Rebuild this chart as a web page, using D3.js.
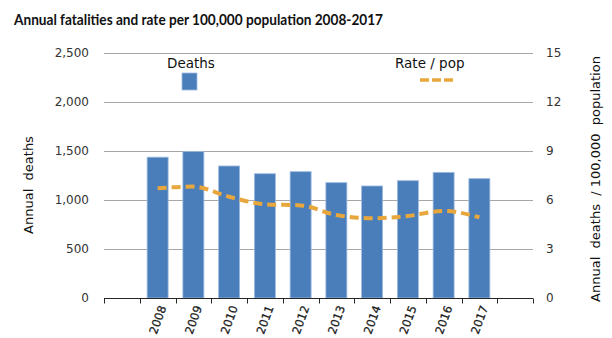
<!DOCTYPE html>
<html>
<head>
<meta charset="utf-8">
<script src="https://cdn.jsdelivr.net/npm/d3@7"></script>
<style>
  body { margin: 0; background: #fff; }
  text { font-family: "DejaVu Sans", Verdana, sans-serif; fill: #333; }
</style>
</head>
<body>
<div id="chart"></div>
<script>
// data
const years = ["2008", "2009", "2010", "2011", "2012", "2013", "2014", "2015", "2016", "2017"];
const deaths = [1437, 1494, 1347, 1268, 1289, 1177, 1143, 1197, 1282, 1218];
const ratePerPop = [6.72, 6.82, 6.2, 5.74, 5.67, 5.08, 4.88, 5.02, 5.33, 4.94];
const leftTicks = [0, 500, 1000, 1500, 2000, 2500];
const rightTicks = [0, 3, 6, 9, 12, 15];

const W = 612, H = 338;
const plot = { left: 104, right: 533, top: 53, bottom: 298 };

const svg = d3.select("#chart").append("svg")
  .attr("width", W)
  .attr("height", H);

// one empty slot either side of the years, like the source
const slots = ["_a", ...years, "_b"];
const x = d3.scaleBand()
  .domain(slots)
  .range([plot.left, plot.right])
  .paddingInner(0)
  .paddingOuter(0);
const barW = 21;

const yL = d3.scaleLinear().domain([0, 2500]).range([plot.bottom, plot.top]);
const yR = d3.scaleLinear().domain([0, 15]).range([plot.bottom, plot.top]);

// title
svg.append("text")
  .attr("x", 14)
  .attr("y", 25)
  .attr("textLength", 369)
  .attr("lengthAdjust", "spacingAndGlyphs")
  .style("font-family", "Lato, sans-serif")
  .style("font-weight", "bold")
  .style("font-size", "15.5px")
  .style("fill", "#111")
  .text("Annual fatalities and rate per 100,000 population 2008-2017");

// gridlines
svg.append("g")
  .selectAll("line")
  .data(leftTicks.filter(d => d > 0))
  .enter().append("line")
    .attr("x1", plot.left)
    .attr("x2", plot.right)
    .attr("y1", d => Math.round(yL(d)) + 0.5)
    .attr("y2", d => Math.round(yL(d)) + 0.5)
    .attr("stroke", "#a6a6a6")
    .attr("stroke-width", 1);

// left axis labels
svg.append("g")
  .selectAll("text")
  .data(leftTicks)
  .enter().append("text")
    .attr("x", 89)
    .attr("y", d => yL(d))
    .attr("dy", "0.35em")
    .style("text-anchor", "end")
    .style("font-size", "12px")
    .text(d => d3.format(",")(d));

// right axis labels
svg.append("g")
  .selectAll("text")
  .data(rightTicks)
  .enter().append("text")
    .attr("x", 546)
    .attr("y", d => yR(d))
    .attr("dy", "0.35em")
    .style("text-anchor", "start")
    .style("font-size", "12px")
    .text(d => d);

// bars
svg.append("g")
  .selectAll("rect")
  .data(years)
  .enter().append("rect")
    .attr("x", d => x(d) + (x.bandwidth() - barW) / 2)
    .attr("y", (d, i) => yL(deaths[i]))
    .attr("width", barW)
    .attr("height", (d, i) => yL(0) - yL(deaths[i]))
    .attr("fill", "#4a7ebb")
    .attr("stroke", "#9dbbe0")
    .attr("stroke-width", 0.8);

// category axis
const axisY = plot.bottom + 0.5;
svg.append("line")
  .attr("x1", plot.left).attr("x2", plot.right)
  .attr("y1", axisY).attr("y2", axisY)
  .attr("stroke", "#262626");
svg.append("g")
  .selectAll("line")
  .data(slots.concat(["end"]))
  .enter().append("line")
    .attr("x1", (d, i) => Math.round(plot.left + i * x.step()) + 0.5)
    .attr("x2", (d, i) => Math.round(plot.left + i * x.step()) + 0.5)
    .attr("y1", axisY)
    .attr("y2", axisY + 5)
    .attr("stroke", "#262626");

svg.append("g")
  .selectAll("text")
  .data(years)
  .enter().append("text")
    .attr("transform", d => `translate(${x(d) + x.bandwidth() / 2 + 5},${plot.bottom + 8}) rotate(-70)`)
    .style("text-anchor", "end")
    .style("font-size", "11.5px")
    .style("fill", "#1a1a1a")
    .style("stroke", "#1a1a1a")
    .style("stroke-width", 0.25)
    .attr("dy", "0.35em")
    .text(d => d);

// rate line
const line = d3.line()
  .x((d, i) => x(years[i]) + x.bandwidth() / 2)
  .y(d => yR(d))
  .curve(d3.curveMonotoneX);

svg.append("path")
  .datum(ratePerPop)
  .attr("d", line)
  .attr("fill", "none")
  .attr("stroke", "#e8a73c")
  .attr("stroke-width", 4)
  .attr("stroke-dasharray", "9,5");

// axis titles
svg.append("text")
  .attr("transform", "translate(33,185) rotate(-90)")
  .style("text-anchor", "middle")
  .style("font-size", "13px")
  .style("fill", "#111")
  .attr("xml:space", "preserve")
  .text("Annual  deaths");

svg.append("text")
  .attr("transform", "translate(600,179) rotate(-90)")
  .style("text-anchor", "middle")
  .style("font-size", "13px")
  .style("fill", "#111")
  .attr("xml:space", "preserve")
  .text("Annual  deaths  / 100,000  population");

// legend
svg.append("text")
  .attr("x", 167)
  .attr("y", 68)
  .style("font-size", "13.5px")
  .style("fill", "#111")
  .text("Deaths");
svg.append("rect")
  .attr("x", 182).attr("y", 73)
  .attr("width", 15).attr("height", 17)
  .attr("fill", "#4a7ebb")
  .attr("stroke", "#9dbbe0")
  .attr("stroke-width", 0.8);

svg.append("text")
  .attr("x", 395)
  .attr("y", 68)
  .style("font-size", "13.5px")
  .style("fill", "#111")
  .text("Rate / pop");
svg.append("line")
  .attr("x1", 420).attr("x2", 454)
  .attr("y1", 80).attr("y2", 80)
  .attr("stroke", "#e8a73c")
  .attr("stroke-width", 3.5)
  .attr("stroke-dasharray", "9,3");
</script>
</body>
</html>
